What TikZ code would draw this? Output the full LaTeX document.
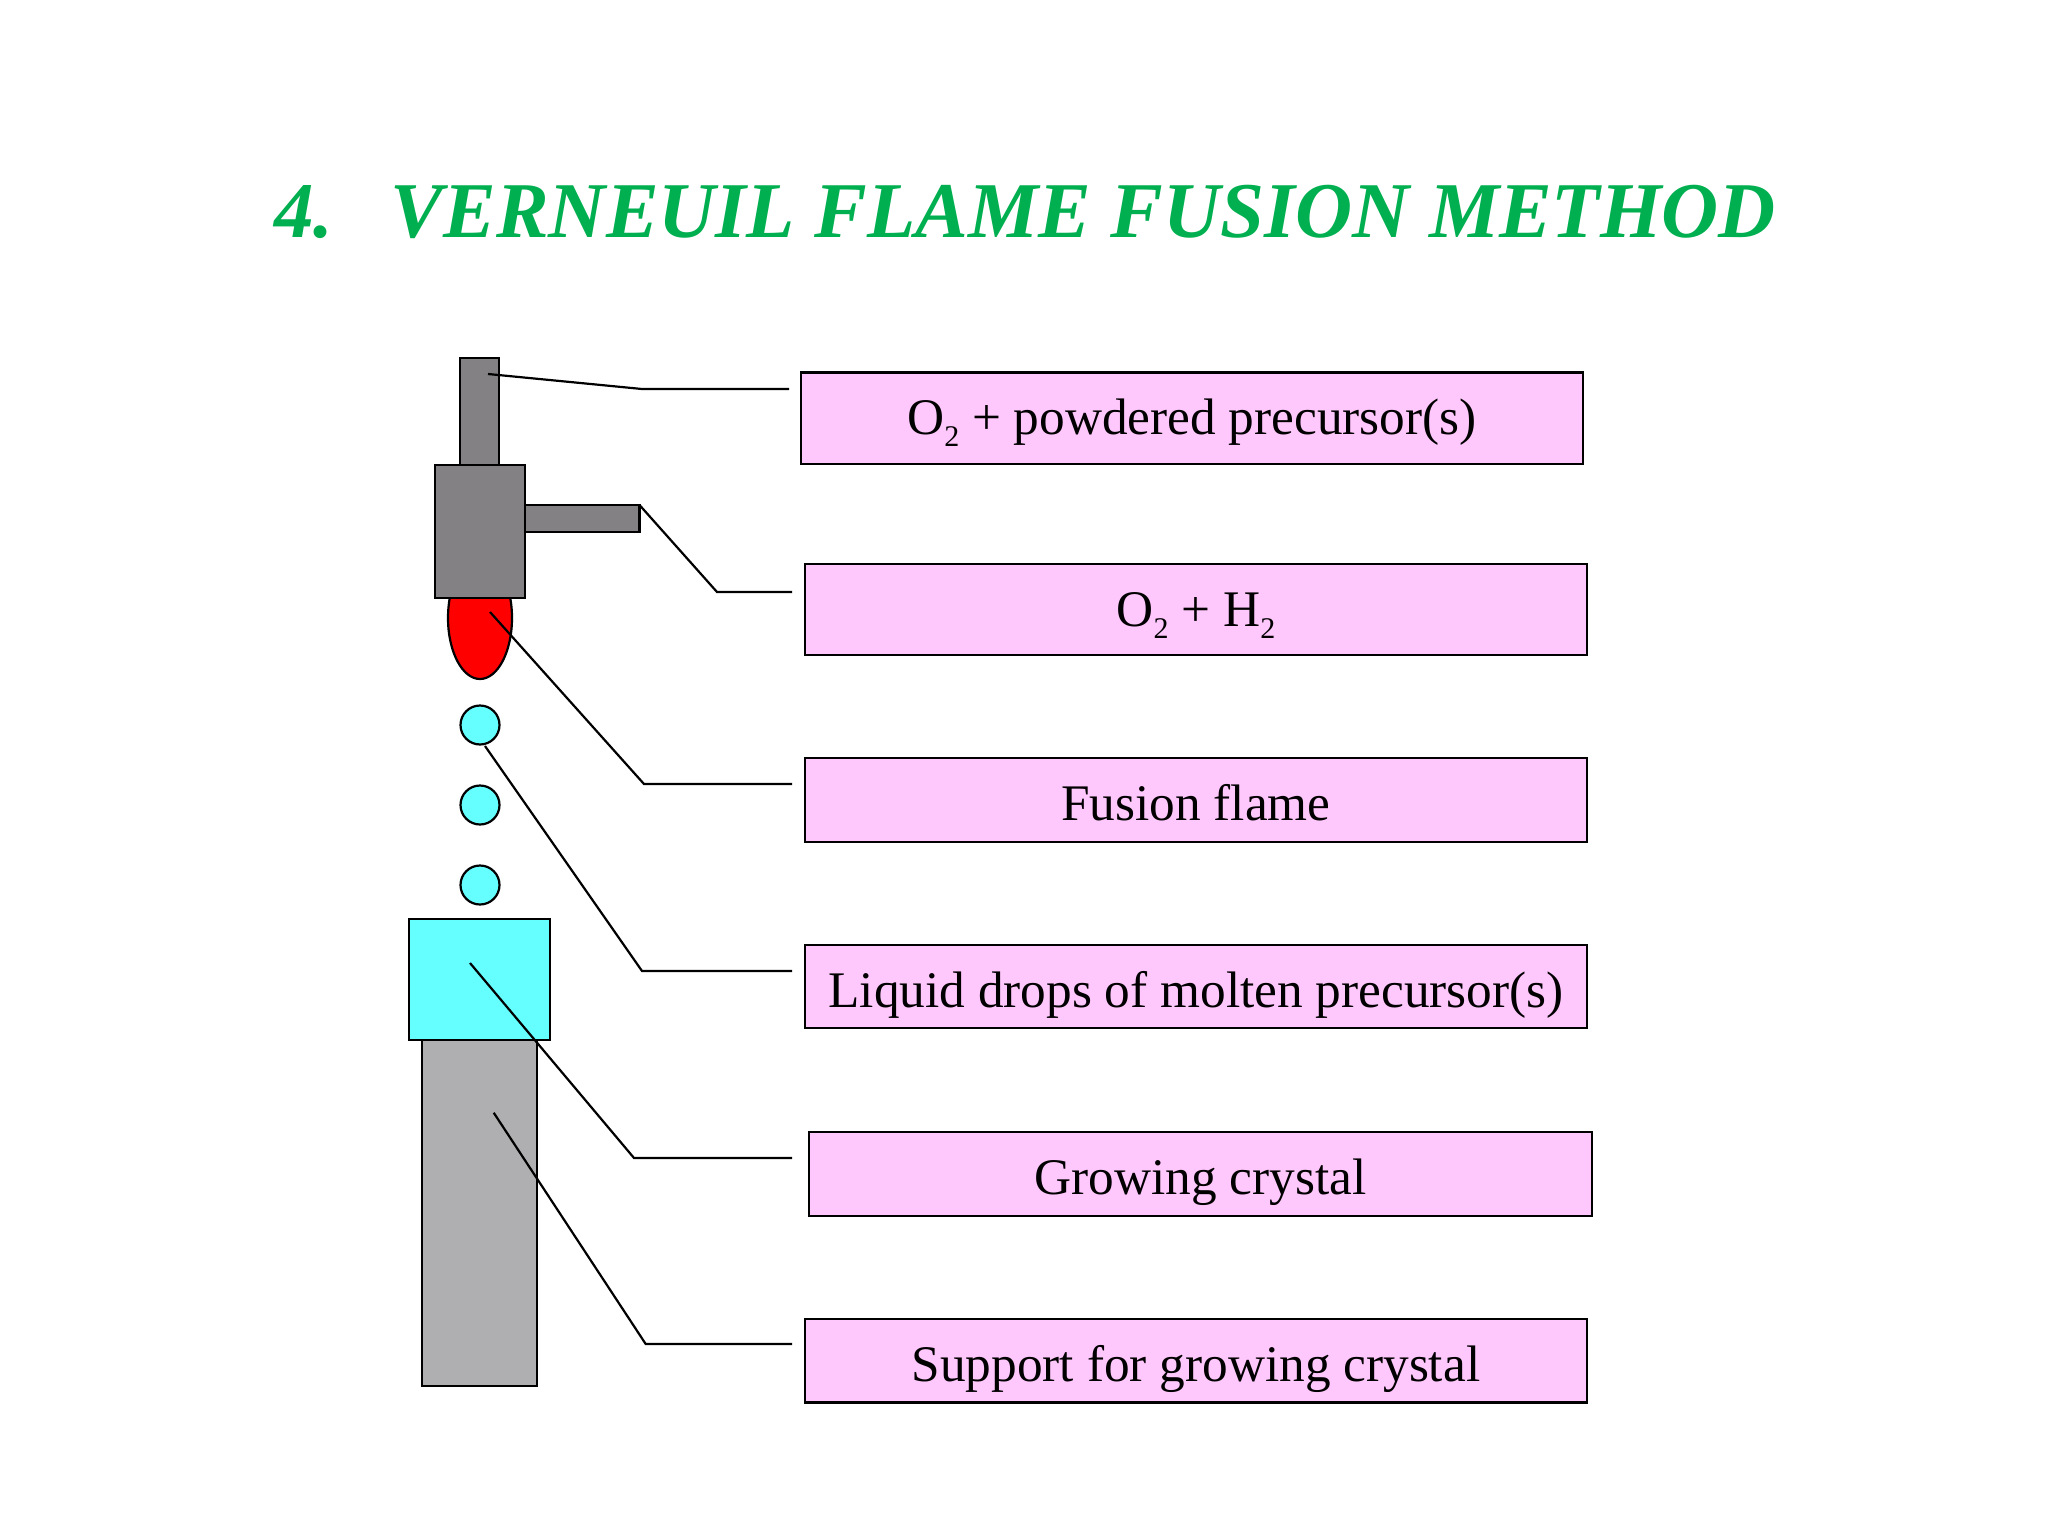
\documentclass[tikz,border=0pt]{standalone}
\usepackage{fontspec}
\setmainfont{Liberation Serif}
\usetikzlibrary{shapes.geometric}
\definecolor{titlegreen}{HTML}{00AF50}
\definecolor{labelpink}{HTML}{FFC8FC}
\definecolor{torchgrey}{HTML}{838184}
\definecolor{supportgrey}{HTML}{AFAEB0}
\definecolor{dropcyan}{HTML}{66FFFF}
\newcommand{\lowtwo}{\raisebox{-12pt}{\fontsize{30}{30}\selectfont 2}}
\tikzset{
  x=1pt,y=-1pt,
  part/.style={draw=black,line width=2.2pt,inner sep=0pt,outer sep=0pt},
  torch/.style={part,rectangle,fill=torchgrey},
  drop/.style={part,circle,fill=dropcyan,minimum size=39pt},
  label box/.style={part,rectangle,fill=labelpink,text=black,font=\fontsize{51.3}{60}\selectfont,minimum width=782.5pt,text depth=10pt},
  leader/.style={draw=black,line width=2.2pt,line join=miter},
}
\begin{document}
\begin{tikzpicture}
\useasboundingbox (0,0) rectangle (2048,1536);
\fill[white] (0,0) rectangle (2048,1536);
\node[text=titlegreen,inner sep=0pt,anchor=base west,font=\fontsize{79}{90}\selectfont\bfseries\itshape] (title) at (274,237.5) {4.\hspace{57.5pt}VERNEUIL FLAME FUSION METHOD};
% torch and flame
\node[part,ellipse,fill=red,minimum width=64pt,minimum height=122pt] (flame) at (480,618) {};
\node[torch,minimum width=39pt,minimum height=107pt] (feed) at (479.5,411.5) {};
\node[torch,minimum width=115pt,minimum height=27pt] (side) at (582,518.5) {};
\node[torch,minimum width=89.5pt,minimum height=133pt] (block) at (480,531.5) {};
% drops
\node[drop] (d1) at (480,725) {};
\node[drop] (d2) at (480,805) {};
\node[drop] (d3) at (480,885) {};
% crystal and support
\node[part,rectangle,fill=supportgrey,minimum width=115pt,minimum height=346pt] (support) at (479.5,1213) {};
\node[part,rectangle,fill=dropcyan,minimum width=141pt,minimum height=121pt] (crystal) at (479.5,979.5) {};
% labels
\node[label box,minimum height=91.5pt,text height=42.5pt] (l1) at (1192,418.25) {O\lowtwo{} + powdered precursor(s)};
\node[label box,minimum height=91pt,text height=43pt] (l2) at (1196,609.5) {O\lowtwo{} + H\lowtwo};
\node[label box,minimum height=84pt,text height=50pt] (l3) at (1196,800) {Fusion flame};
\node[label box,minimum height=83pt,text height=51pt] (l4) at (1196,986.5) {Liquid drops of molten precursor(s)};
\node[label box,minimum height=84pt,text height=50pt] (l5) at (1200.5,1174) {Growing crystal};
\node[label box,minimum height=83.5pt,text height=50.5pt] (l6) at (1196,1360.75) {Support for growing crystal};
% leader points
\coordinate (s1) at (488,374); \coordinate (b1) at (642,389); \coordinate (e1) at (789,389);
\coordinate (b2) at (717,592); \coordinate (e2) at (792,592);
\coordinate (s3) at (490,612); \coordinate (b3) at (644,784); \coordinate (e3) at (792,784);
\coordinate (s4) at (485,746); \coordinate (b4) at (642,971); \coordinate (e4) at (792,971);
\coordinate (s5) at (470,963); \coordinate (b5) at (634,1158); \coordinate (e5) at (792,1158);
\coordinate (s6) at (493.7,1112.7); \coordinate (b6) at (645.7,1344); \coordinate (e6) at (792,1344);
\draw[leader] (s1) -- (b1) -- (e1);
\draw[leader] (side.north east) -- (b2) -- (e2);
\draw[leader] (s3) -- (b3) -- (e3);
\draw[leader] (s4) -- (b4) -- (e4);
\draw[leader] (s5) -- (b5) -- (e5);
\draw[leader] (s6) -- (b6) -- (e6);
\end{tikzpicture}
\end{document}
